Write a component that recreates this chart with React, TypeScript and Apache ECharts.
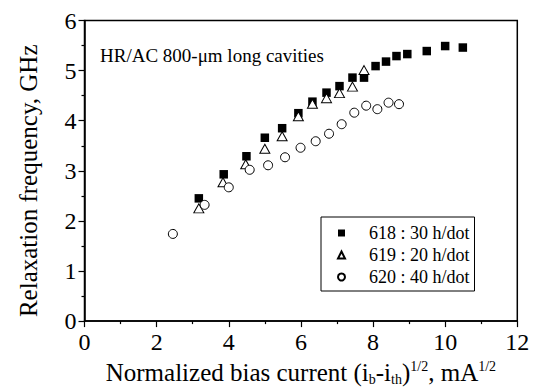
import React, { useEffect, useRef } from "react";
import * as echarts from "echarts";

const xTicks = { min: 0, max: 12, interval: 2 };
const yTicks = { min: 0, max: 6, interval: 1 };

const s618X = [3.17, 3.86, 4.49, 5.0, 5.48, 5.93, 6.32, 6.71, 7.07, 7.43, 7.75, 8.07, 8.36, 8.65, 8.95, 9.49, 10.0, 10.49];
const s618Y = [2.45, 2.93, 3.29, 3.66, 3.85, 4.15, 4.38, 4.56, 4.69, 4.86, 4.86, 5.09, 5.18, 5.29, 5.33, 5.39, 5.49, 5.46];

const s619X = [3.17, 3.84, 4.47, 5.0, 5.48, 5.93, 6.32, 6.71, 7.07, 7.43, 7.75];
const s619Y = [2.25, 2.77, 3.13, 3.44, 3.69, 4.09, 4.34, 4.45, 4.55, 4.68, 5.01];

const s620X = [2.45, 3.33, 4.0, 4.58, 5.09, 5.56, 5.99, 6.41, 6.78, 7.13, 7.48, 7.81, 8.12, 8.43, 8.72];
const s620Y = [1.74, 2.32, 2.67, 3.02, 3.11, 3.27, 3.46, 3.59, 3.74, 3.93, 4.16, 4.3, 4.23, 4.36, 4.33];

const seriesNames = ["618 : 30 h/dot", "619 : 20 h/dot", "620 : 40 h/dot"];
const annotation = "HR/AC 800-\u03bcm long cavities";

const FONT = "'Liberation Serif', 'Times New Roman', serif";

const zip = (xs: number[], ys: number[]) => xs.map((x, i) => [x, ys[i]]);

export default function App() {
  const ref = useRef<HTMLDivElement>(null);
  useEffect(() => {
    if (!ref.current) return;
    const chart = echarts.init(ref.current, undefined, { renderer: "svg" });
    chart.setOption({
      animation: false,
      backgroundColor: "#fff",
      grid: {
        left: 84.5,
        right: 19.7,
        top: 20.5,
        bottom: 68.5,
        show: true,
        borderColor: "#000",
        borderWidth: 1.5,
        backgroundColor: "transparent",
      },
      xAxis: {
        type: "value",
        min: xTicks.min,
        max: xTicks.max,
        interval: xTicks.interval,
        name: "Normalized bias current (i{sub|b}-i{sub|th}){sup|1/2}, mA{sup|1/2}",
        nameLocation: "middle",
        nameGap: 29,
        nameTextStyle: {
          fontFamily: FONT,
          fontSize: 25,
          color: "#000",
          rich: {
            sub: { fontFamily: FONT, fontSize: 14, color: "#000", padding: [14, 0, 0, 0] },
            sup: { fontFamily: FONT, fontSize: 14, color: "#000", padding: [0, 0, 12, 0] },
          },
        },
        axisLine: { show: true, lineStyle: { color: "#000", width: 1.5 } },
        axisTick: { show: true, inside: false, length: 6, lineStyle: { color: "#000", width: 1.2 } },
        minorTick: { show: true, splitNumber: 2, length: 3, lineStyle: { color: "#000", width: 1.2 } },
        splitLine: { show: false },
        axisLabel: { fontFamily: FONT, fontSize: 24, color: "#000", margin: 9 },
      },
      yAxis: {
        type: "value",
        min: yTicks.min,
        max: yTicks.max,
        interval: yTicks.interval,
        name: "Relaxation frequency, GHz",
        nameLocation: "middle",
        nameGap: 44,
        nameTextStyle: { fontFamily: FONT, fontSize: 25, color: "#000", padding: [0, 20, 0, 0] },
        axisLine: { show: true, lineStyle: { color: "#000", width: 1.5 } },
        axisTick: { show: true, inside: false, length: 6, lineStyle: { color: "#000", width: 1.2 } },
        minorTick: { show: true, splitNumber: 2, length: 3, lineStyle: { color: "#000", width: 1.2 } },
        splitLine: { show: false },
        axisLabel: { fontFamily: FONT, fontSize: 24, color: "#000", margin: 8 },
      },
      legend: {
        orient: "vertical",
        left: 321,
        top: 217,
        padding: [7, 5, 5, 16],
        itemGap: 4,
        itemWidth: 7,
        itemHeight: 7,
        borderColor: "#000",
        borderWidth: 1,
        backgroundColor: "#fff",
        textStyle: { fontFamily: FONT, fontSize: 18, color: "#000", padding: [0, 0, 0, 19] },
        data: seriesNames,
      },
      graphic: [
        {
          type: "text",
          x: 100,
          y: 55,
          style: {
            text: annotation,
            fontFamily: FONT,
            fontSize: 19,
            fill: "#000",
            verticalAlign: "middle",
          },
        },
      ],
      series: [
        {
          name: seriesNames[0],
          type: "scatter",
          symbol: "rect",
          symbolSize: 8.5,
          itemStyle: { color: "#000", borderColor: "#000", borderWidth: 0, opacity: 1 },
          data: zip(s618X, s618Y),
        },
        {
          name: seriesNames[1],
          type: "scatter",
          symbol: "triangle",
          symbolSize: [10, 9],
          itemStyle: { color: "#fff", borderColor: "#000", borderWidth: 1, opacity: 1 },
          data: zip(s619X, s619Y),
        },
        {
          name: seriesNames[2],
          type: "scatter",
          symbol: "circle",
          symbolSize: 9,
          itemStyle: { color: "#fff", borderColor: "#000", borderWidth: 1, opacity: 1 },
          data: zip(s620X, s620Y),
        },
      ],
    });
    return () => chart.dispose();
  }, []);
  return <div ref={ref} style={{ width: 537, height: 391, position: "absolute", left: 0, top: 0 }} />;
}
